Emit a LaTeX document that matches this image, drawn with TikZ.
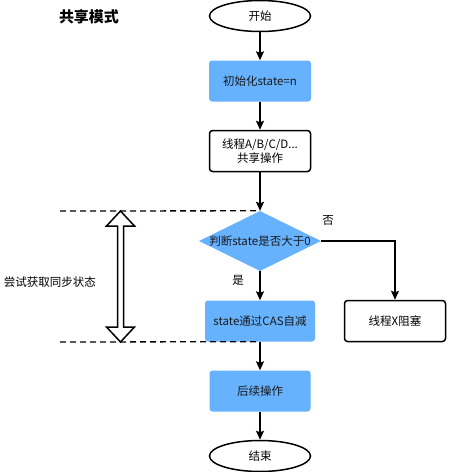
\documentclass[tikz,border=0pt]{standalone}
\usepackage{fontspec}
\newfontfamily\cjk{Noto Sans CJK SC}
\usetikzlibrary{arrows.meta,shapes.geometric,positioning}
\definecolor{flowblue}{HTML}{66B2FF}
\begin{document}
\begin{tikzpicture}[
  x=1pt, y=-1pt,
  shareterm/.style = {draw, ellipse, line width=1.5pt, minimum width=101pt, minimum height=31pt, inner sep=0pt, font=\cjk\fontsize{11.5}{14}\selectfont},
  shareblue/.style = {fill=flowblue, rounded corners=3pt, minimum width=102pt, minimum height=41pt, inner sep=0pt, font=\cjk\fontsize{11.5}{14}\selectfont, text=black!90},
  sharebox/.style = {draw, line width=1.5pt, rounded corners=3pt, minimum width=101pt, minimum height=41pt, inner sep=0pt, align=center, font=\cjk\fontsize{11.5}{14}\selectfont},
  sharearr/.style = {-{Stealth[length=9pt, width=8pt, inset=1.5pt]}, line width=1.4pt},
  sharedash/.style = {dashed, dash pattern=on 6pt off 4pt, line width=1.3pt},
  sharelbl/.style = {font=\cjk\fontsize{11.5}{14}\selectfont}
]
  \useasboundingbox (0,0) rectangle (448,472);
  % title
  \node[font=\cjk\bfseries\fontsize{15}{17}\selectfont] (title) at (89,17) {共享模式};
  % flow nodes
  \node[shareterm] (start) at (260,16) {开始};
  \node[shareblue] (init) at (260,81) {初始化state=n};
  \node[sharebox] (thread) at (260,151) {线程A/B/C/D...\\共享操作};
  \node[diamond, fill=flowblue, minimum width=122pt, minimum height=60pt, inner sep=0pt,
    label={[sharelbl, text=black!90]center:判断state是否大于0}] (judge) at (260,241) {};
  \node[shareblue, minimum width=110pt] (cas) at (260,321) {state通过CAS自减};
  \node[sharebox] (block) at (395,321) {线程X阻塞};
  \node[shareblue, minimum width=101pt] (next) at (260,391) {后续操作};
  \node[shareterm] (end) at (260,456) {结束};
  % branch labels
  \node[sharelbl] (no) at (328,220) {否};
  \node[sharelbl] (yes) at (238,280) {是};
  % arrows
  \draw[sharearr] (start) -- (init);
  \draw[sharearr] (init) -- (thread);
  \draw[sharearr] (thread) -- (judge);
  \draw[sharearr] (judge) -- (cas);
  \draw[sharearr] (cas) -- (next);
  \draw[sharearr] (next) -- (end);
  \draw[sharearr] (judge.east) -| (block.north);
  % range of the attempt
  \coordinate (dtop) at (60,211);
  \coordinate (dbot) at (60,342);
  \draw[sharedash] (dtop) -- (judge.north);
  \draw[sharedash] (dbot) -- (cas.south);
  \draw[line width=1.5pt, fill=white] (120.5,211) -- (134.5,226) -- (123.5,226) -- (123.5,327)
    -- (134.5,327) -- (120.5,342) -- (106.5,327) -- (117.5,327) -- (117.5,226) -- (106.5,226) -- cycle;
  \node[sharelbl] (try) at (50,282) {尝试获取同步状态};
\end{tikzpicture}
\end{document}
